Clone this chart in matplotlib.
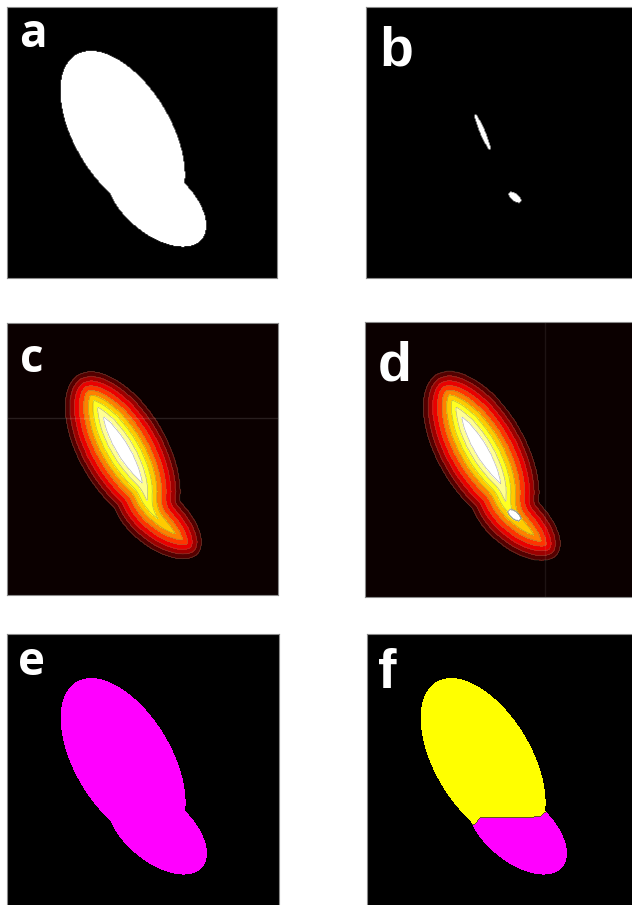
import numpy as np
import matplotlib
matplotlib.use('Agg')
import matplotlib.pyplot as plt

W, H = 632, 905
N = 272

# shape = union of two ellipses (centre x, centre y, semi-major, semi-minor, angle deg), panel pixels
big_ellipse = (116.1, 126.2, 91.2, 48.3, 59.2)
small_ellipse = (149.8, 194.9, 59.5, 32.5, 40.0)
# markers (panel b)
marker_1 = (117.0, 125.5, 19.0, 2.6, 67.0)
marker_2 = (149.5, 191.0, 7.5, 3.5, 40.0)
# watershed ridge line separating the two objects (panel f), x / y in panel pixels
ridge_x = [107.7, 112.7, 172.7, 178.7]
ridge_y = [190.0, 183.4, 182.4, 177.4]
panel_labels = ['a', 'b', 'c', 'd', 'e', 'f']
n_levels = 10

yy, xx = np.mgrid[0:N, 0:N] + 0.5

def inside(p):
    cx, cy, A, B, t = p
    t = np.radians(t)
    u = (xx-cx)*np.cos(t) + (yy-cy)*np.sin(t)
    v = -(xx-cx)*np.sin(t) + (yy-cy)*np.cos(t)
    return (u/A)**2 + (v/B)**2 <= 1

mask = inside(big_ellipse) | inside(small_ellipse)
m1 = inside(marker_1) & mask
m2 = inside(marker_2) & mask
pad = np.pad(mask, 1)
border = ~mask & (pad[:-2, 1:-1] | pad[2:, 1:-1] | pad[1:-1, :-2] | pad[1:-1, 2:])
by, bx = np.nonzero(border)
fy, fx = np.nonzero(mask)
dist = np.zeros((N, N))
for s in range(0, len(fy), 3000):
    cy_, cx_ = fy[s:s+3000], fx[s:s+3000]
    d2 = (cy_[:, None]-by[None, :])**2 + (cx_[:, None]-bx[None, :])**2
    dist[cy_, cx_] = np.sqrt(d2.min(axis=1)) - 0.5
dist[~mask] = 0
dmax = dist.max()
dist_d = dist.copy()
dist_d[m1 | m2] = dmax

# segmentation: object 2 below the ridge line
ridge = np.interp(xx, ridge_x, ridge_y)
labels = np.zeros((N, N), int)
labels[mask] = 1
labels[mask & (yy > ridge)] = 2
lp = np.pad(labels, 1)
wline = (labels == 2) & ((lp[:-2, 1:-1] == 1) | (lp[2:, 1:-1] == 1) | (lp[1:-1, :-2] == 1) | (lp[1:-1, 2:] == 1))

fig = plt.figure(figsize=(W/100, H/100), dpi=100)
fig.patch.set_facecolor('white')

def add_ax(left, top, w, h):
    ax = fig.add_axes([left/W, 1-(top+h)/H, w/W, h/H])
    ax.set_xlim(0, N); ax.set_ylim(N, 0)
    ax.set_xticks([]); ax.set_yticks([])
    for sp in ax.spines.values():
        sp.set_color('#8a8a8a'); sp.set_linewidth(0.8)
    return ax

hot = plt.get_cmap('hot')
ext = (0, N, N, 0)

ax = add_ax(6, 7, 272, 271)
img = np.zeros((N, N, 3)); img[mask] = 1
ax.imshow(img, extent=ext, interpolation='bilinear')

ax = add_ax(365, 7, 272, 271)
img = np.zeros((N, N, 3)); img[m1 | m2] = 1
ax.imshow(img, extent=ext, interpolation='bilinear')

step = 0.87 * dmax / (n_levels - 1)
levels = list(step * np.arange(n_levels)) + [dmax + 1]
cols = [hot(i/(n_levels-1)) for i in range(n_levels)]
for (l, t, w, h), D, line in [((7, 323, 271, 272), dist, 'h'), ((365, 322, 272, 275), dist_d, 'v')]:
    ax = add_ax(l, t, w, h)
    ax.set_facecolor(hot(0))
    ax.contourf(xx, yy, D, levels=levels, colors=cols)
    ax.contour(xx, yy, D, levels=levels[1:-1], colors=[(0.45, 0.45, 0.35)], linewidths=0.5, alpha=0.5)
    if line == 'h':
        ax.axhline(95, color='white', alpha=0.12, lw=1)
    else:
        ax.axvline(180, color='white', alpha=0.08, lw=1)

ax = add_ax(7, 634, 272, 272)
img = np.zeros((N, N, 3)); img[mask] = (1, 0, 1)
ax.imshow(img, extent=ext, interpolation='bilinear')

ax = add_ax(367, 634, 272, 272)
img = np.zeros((N, N, 3)); img[labels == 1] = (1, 1, 0); img[labels == 2] = (1, 0, 1)
img[wline] = (0.4, 0.35, 0.1)
ax.imshow(img, extent=ext, interpolation='bilinear')

lab_left = dict(family='Open Sans', weight='bold', size=33, color='white')
lab_right = dict(family='Liberation Sans', weight='bold', size=40, color='white')
pos = [(19.5, 46.7, lab_left), (379, 65, lab_right), (19.5, 371.7, lab_left),
       (378, 380, lab_right), (18.5, 675, lab_left), (378, 688.3, lab_right)]
for s, (x, y, kw) in zip(panel_labels, pos):
    fig.text(x/W, 1-y/H, s, va='baseline', ha='left', **kw)

fig.savefig('out.png', dpi=100, facecolor='white')
